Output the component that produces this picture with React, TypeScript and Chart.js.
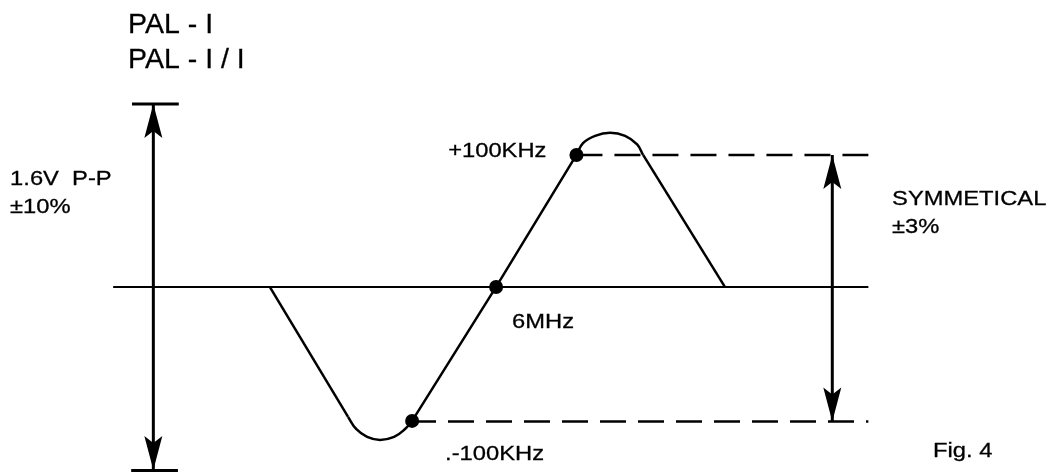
import React, { useEffect, useRef } from "react";
import { Chart, registerables } from "chart.js";

Chart.register(...registerables);

// Axes: frequency in MHz, amplitude relative to the ±100 kHz level
const X_RANGE = [5.395, 6.6755];
const Y_RANGE = [-1.402, 2.174];

// Discriminator S-curve
const fallInX = [5.724, 5.8195];
const fallInY = [0, -0.985];
const troughX = [5.8195, 5.8293, 5.8427, 5.8585, 5.8756, 5.889, 5.8976];
const troughY = [-0.985, -1.076, -1.136, -1.159, -1.136, -1.076, -1.015];
const riseX = [5.8976, 6.0, 6.098];
const riseY = [-1.015, 0, 1.0];
const peakX = [6.098, 6.106, 6.1207, 6.139, 6.1573, 6.172, 6.1793];
const peakY = [1.0, 1.09, 1.145, 1.168, 1.145, 1.08, 1.0];
const fallOutX = [6.1793, 6.279];
const fallOutY = [1.0, 0];

// Marked points: -100 kHz, 6 MHz, +100 kHz
const markerX = [5.8976, 6.0, 6.098];
const markerY = [-1.015, 0, 1.0];

// Reference lines
const baseX = [5.533, 6.454];
const baseY = [0, 0];
const upperDashX = [6.098, 6.454];
const upperDashY = [1.0, 1.0];
const lowerDashX = [5.895, 6.454];
const lowerDashY = [-1.02, -1.02];

// 1.6V P-P dimension arrow with end bars
const ppArrowX = [5.582, 5.582];
const ppArrowY = [1.386, -1.386];
const ppTopBarX = [5.556, 5.613];
const ppTopBarY = [1.386, 1.386];
const ppBottomBarX = [5.555, 5.612];
const ppBottomBarY = [-1.39, -1.39];

// Symmetry arrow
const symArrowX = [6.41, 6.41];
const symArrowY = [1.0, -1.02];

// Text labels
const labelText = [
  "PAL - I",
  "PAL - I / I",
  "1.6V  P-P",
  "±10%",
  "+100KHz",
  "6MHz",
  ".-100KHz",
  "SYMMETICAL",
  "±3%",
  "Fig. 4",
];
const labelX = [5.5512, 5.5512, 5.4073, 5.4073, 5.9415, 6.0195, 5.9378, 6.4829, 6.4829, 6.5329];
const labelY = [1.924, 1.659, 0.77, 0.56, 0.985, -0.311, -1.311, 0.621, 0.409, -1.288];
const labelSize = [28.5, 28.5, 21, 21, 21, 21, 21, 21, 21, 21];
const labelStretch = [1, 1, 1.13, 1.13, 1.13, 1.13, 1.13, 1.13, 1.13, 1.13];

const FONT = '"Liberation Sans", Arial, Helvetica, sans-serif';

const pts = (xs: number[], ys: number[]) => xs.map((x, i) => ({ x, y: ys[i] }));

const arrowPlugin = {
  id: "arrowHeads",
  afterDatasetsDraw(chart: any) {
    const ctx = chart.ctx;
    chart.data.datasets.forEach((ds: any, i: number) => {
      if (!ds.arrowHeads) return;
      const els = chart.getDatasetMeta(i).data;
      const a = els[0];
      const b = els[els.length - 1];
      const dx = b.x - a.x;
      const dy = b.y - a.y;
      const len = Math.hypot(dx, dy) || 1;
      const ux = dx / len;
      const uy = dy / len;
      const head = (tx: number, ty: number, dirX: number, dirY: number) => {
        const L = 34, W = 9, N = 27;
        const bx = tx - dirX * L;
        const by = ty - dirY * L;
        const nx = -dirY;
        const ny = dirX;
        ctx.beginPath();
        ctx.moveTo(tx, ty);
        ctx.lineTo(bx + nx * W, by + ny * W);
        ctx.lineTo(tx - dirX * N, ty - dirY * N);
        ctx.lineTo(bx - nx * W, by - ny * W);
        ctx.closePath();
        ctx.fill();
      };
      ctx.save();
      ctx.fillStyle = "#000";
      head(b.x, b.y, ux, uy);
      head(a.x, a.y, -ux, -uy);
      ctx.restore();
    });
  },
};

const textPlugin = {
  id: "diagramText",
  afterDatasetsDraw(chart: any) {
    const ctx = chart.ctx;
    const sx = chart.scales.x;
    const sy = chart.scales.y;
    ctx.save();
    ctx.fillStyle = "#000";
    ctx.strokeStyle = "#000";
    ctx.lineWidth = 0.3;
    ctx.textBaseline = "alphabetic";
    ctx.textAlign = "left";
    labelText.forEach((t, i) => {
      const px = sx.getPixelForValue(labelX[i]);
      const py = sy.getPixelForValue(labelY[i]);
      ctx.save();
      ctx.translate(px, py);
      ctx.scale(labelStretch[i], 1);
      ctx.font = `${labelSize[i]}px ${FONT}`;
      ctx.fillText(t, 0, 0);
      ctx.strokeText(t, 0, 0);
      ctx.restore();
    });
    ctx.restore();
  },
};

export default function App() {
  const ref = useRef<HTMLCanvasElement>(null);

  useEffect(() => {
    const canvas = ref.current;
    if (!canvas) return;
    const line = (label: string, xs: number[], ys: number[], extra: any = {}) => ({
      label,
      data: pts(xs, ys),
      showLine: true,
      borderColor: "#000",
      backgroundColor: "#000",
      borderWidth: 2.5,
      pointRadius: 0,
      pointHoverRadius: 0,
      fill: false,
      tension: 0,
      clip: false,
      ...extra,
    });

    const chart = new Chart(canvas, {
      type: "scatter",
      data: {
        datasets: [
          line("baseline", baseX, baseY, { borderWidth: 2 }),
          line("upper level", upperDashX, upperDashY, { borderDash: [26, 12] }),
          line("lower level", lowerDashX, lowerDashY, { borderDash: [26, 12] }),
          line("P-P arrow", ppArrowX, ppArrowY, { borderWidth: 3, arrowHeads: true }),
          line("P-P top bar", ppTopBarX, ppTopBarY, { borderWidth: 3 }),
          line("P-P bottom bar", ppBottomBarX, ppBottomBarY, { borderWidth: 3 }),
          line("symmetry arrow", symArrowX, symArrowY, { borderWidth: 3, arrowHeads: true }),
          line("fall in", fallInX, fallInY),
          line("trough", troughX, troughY, { tension: 0.4 }),
          line("rise", riseX, riseY),
          line("peak", peakX, peakY, { tension: 0.4 }),
          line("fall out", fallOutX, fallOutY),
          {
            label: "markers",
            data: pts(markerX, markerY),
            showLine: false,
            pointRadius: 7,
            pointHoverRadius: 7,
            pointBackgroundColor: "#000",
            pointBorderColor: "#000",
            pointBorderWidth: 0,
            clip: false,
          },
        ] as any,
      },
      options: {
        responsive: false,
        animation: false,
        events: [],
        layout: { padding: 0, autoPadding: false },
        plugins: {
          legend: { display: false },
          tooltip: { enabled: false },
          title: { display: false },
        },
        scales: {
          x: { type: "linear", display: false, min: X_RANGE[0], max: X_RANGE[1] },
          y: { type: "linear", display: false, min: Y_RANGE[0], max: Y_RANGE[1] },
        },
      },
      plugins: [arrowPlugin, textPlugin],
    });
    return () => chart.destroy();
  }, []);

  return (
    <div style={{ position: "fixed", left: 0, top: 0, width: 1050, height: 472, background: "#fff" }}>
      <canvas ref={ref} width={1050} height={472} style={{ display: "block", width: 1050, height: 472 }} />
    </div>
  );
}
